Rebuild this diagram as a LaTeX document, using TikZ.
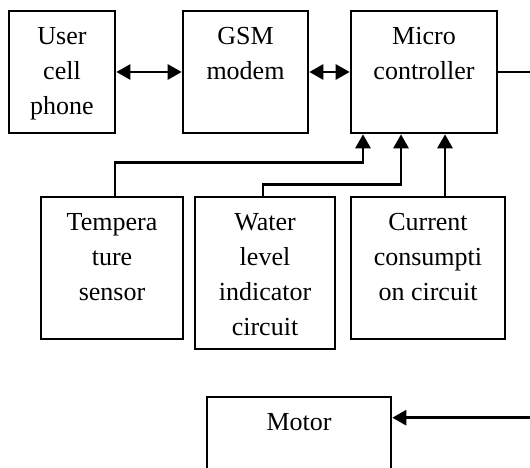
\documentclass[tikz,border=0pt]{standalone}
\usepackage{fontspec}
\setmainfont{Liberation Serif}
\usetikzlibrary{arrows.meta,calc}
\begin{document}
\begin{tikzpicture}[x=1pt,y=1pt,
  blk/.style={draw, line width=2.6pt, inner sep=0pt},
  lbl/.style={anchor=north, inner sep=0pt, align=center,
              font=\fontsize{26}{35}\selectfont},
  link/.style={line width=2.8pt},
  tip/.style={-{Triangle[length=14pt,width=15pt]}},
  tips/.style={{Triangle[length=14pt,width=15pt]}-{Triangle[length=14pt,width=15pt]}}]
\useasboundingbox (0,0) rectangle (530,468);
\clip (0,0) rectangle (530,468);

% blocks
\node[blk, minimum width=106, minimum height=122] (user)    at (62,396)    {};
\node[blk, minimum width=125, minimum height=122] (gsm)     at (245.5,396) {};
\node[blk, minimum width=146, minimum height=122] (micro)   at (424,396)   {};
\node[blk, minimum width=142, minimum height=142] (temp)    at (112,200)   {};
\node[blk, minimum width=140, minimum height=152] (water)   at (265,195)   {};
\node[blk, minimum width=154, minimum height=142] (current) at (428,200)   {};
\node[blk, minimum width=184, minimum height=80]  (motor)   at (299,31)    {};

% block texts
\node[lbl] (userT)    at ([yshift=-10.5pt]user.north)    {\strut User\\cell\\phone};
\node[lbl] (gsmT)     at ([yshift=-10.5pt]gsm.north)     {\strut GSM\\modem};
\node[lbl] (microT)   at ([yshift=-10.5pt]micro.north)   {\strut Micro\\controller};
\node[lbl] (tempT)    at ([yshift=-10.5pt]temp.north)    {\strut Tempera\\ture\\sensor};
\node[lbl] (waterT)   at ([yshift=-10.5pt]water.north)   {\strut Water\\level\\indicator\\circuit};
\node[lbl] (currentT) at ([yshift=-10.5pt]current.north) {\strut Current\\consumpti\\on circuit};
\node[lbl] (motorT)   at ([yshift=-10.5pt]motor.north)   {\strut Motor};

% connectors
\draw[link,tips] (user) -- (gsm);
\draw[link,tips] (gsm) -- (micro);
\draw[link,tip] ([xshift=3pt]temp.north) |- ([xshift=-61pt,yshift=-28pt]micro.south)
                -- ([xshift=-61pt]micro.south);
\draw[link,tip] ([xshift=-2pt]water.north) |- ([xshift=-23pt,yshift=-50pt]micro.south)
                -- ([xshift=-23pt]micro.south);
\draw[link,tip] ([xshift=17pt]current.north) -- ([xshift=21pt]micro.south);
\coordinate (rt) at (545,396);
\coordinate (motorIn) at ([yshift=-22pt]motor.north east);
\draw[link,tip] (micro.east) -- (rt) |- (motorIn);
\end{tikzpicture}
\end{document}
